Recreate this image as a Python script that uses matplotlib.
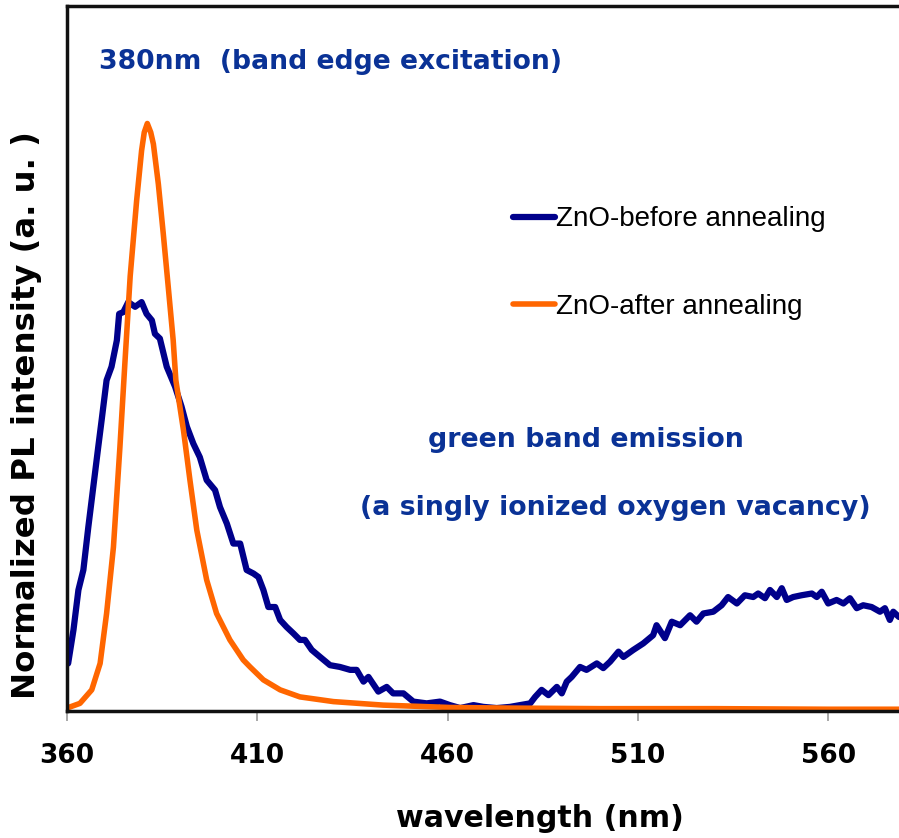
import matplotlib
matplotlib.use("Agg")
import matplotlib.pyplot as plt

# ZnO before annealing
wl_before = [360.3, 361.7, 363.0, 364.3, 365.6, 366.9, 368.2, 369.1, 370.4, 371.7,
             373.1, 373.7, 374.8, 376.1, 377.9, 379.6, 380.9, 382.3, 383.1, 384.4,
             386.2, 388.4, 390.1, 391.5, 393.2, 394.9, 396.7, 398.9, 400.2, 402.0,
             403.7, 405.5, 407.2, 409.0, 410.3, 411.6, 412.9, 414.7, 416.0, 417.7,
             419.5, 421.2, 422.5, 424.3, 426.5, 429.1, 431.7, 434.4, 436.1, 437.9,
             439.2, 441.8, 444.0, 445.7, 448.4, 451.0, 454.5, 458.0, 460.6, 463.3,
             466.8, 469.4, 472.9, 476.4, 479.0, 481.7, 483.0, 484.7, 486.5, 488.7,
             490.0, 491.3, 492.6, 494.8, 496.5, 499.2, 500.9, 502.7, 504.9, 506.2,
             508.8, 511.4, 514.0, 514.9, 517.1, 518.9, 521.1, 523.7, 525.4, 527.2,
             529.8, 532.0, 533.7, 536.0, 538.1, 540.3, 541.6, 543.4, 544.7, 546.5,
             547.8, 549.1, 550.8, 553.0, 555.7, 557.0, 558.3, 560.0, 562.2, 564.0,
             565.7, 567.5, 569.2, 571.4, 573.6, 574.9, 576.2, 577.1, 578.6]
int_before = [0.081, 0.138, 0.206, 0.240, 0.313, 0.381, 0.449, 0.495, 0.563, 0.586,
              0.631, 0.676, 0.679, 0.696, 0.688, 0.696, 0.676, 0.665, 0.642, 0.634,
              0.586, 0.552, 0.518, 0.484, 0.455, 0.432, 0.393, 0.376, 0.347, 0.319,
              0.285, 0.285, 0.240, 0.234, 0.228, 0.206, 0.177, 0.177, 0.155, 0.143,
              0.132, 0.121, 0.121, 0.104, 0.092, 0.078, 0.075, 0.070, 0.070, 0.050,
              0.058, 0.033, 0.041, 0.030, 0.030, 0.016, 0.013, 0.016, 0.010, 0.005,
              0.010, 0.007, 0.005, 0.007, 0.010, 0.013, 0.024, 0.036, 0.027, 0.041,
              0.030, 0.050, 0.058, 0.075, 0.070, 0.081, 0.073, 0.084, 0.101, 0.092,
              0.104, 0.115, 0.129, 0.146, 0.124, 0.152, 0.146, 0.163, 0.152, 0.166,
              0.169, 0.180, 0.194, 0.183, 0.197, 0.194, 0.200, 0.192, 0.206, 0.194,
              0.209, 0.189, 0.194, 0.197, 0.200, 0.194, 0.203, 0.183, 0.189, 0.183,
              0.192, 0.175, 0.180, 0.177, 0.169, 0.175, 0.155, 0.169, 0.160]

# ZnO after annealing
wl_after = [360.0, 363.4, 366.5, 368.7, 370.4, 372.2, 373.9, 375.2, 376.6, 378.3,
            379.6, 380.3, 381.1, 382.0, 382.7, 384.0, 385.3, 386.6, 387.9, 388.6,
            390.6, 392.3, 394.1, 396.7, 399.3, 402.8, 406.3, 408.1, 411.6, 416.0,
            421.2, 430.0, 443.1, 460.6, 475.5, 500.0, 530.0, 560.0, 578.6]
int_after = [0.005, 0.013, 0.036, 0.081, 0.166, 0.279, 0.449, 0.591, 0.740, 0.869,
             0.954, 0.985, 1.000, 0.985, 0.965, 0.897, 0.812, 0.722, 0.631, 0.563,
             0.478, 0.393, 0.308, 0.223, 0.166, 0.121, 0.087, 0.075, 0.053, 0.036,
             0.024, 0.016, 0.010, 0.006, 0.005, 0.004, 0.004, 0.003, 0.003]

xticks = [360, 410, 460, 510, 560]

blue_txt = '#0a3296'
bold_font = 'DejaVu Sans'
leg_font = 'Liberation Sans'

W, H = 899, 838
ax_w = W - 67 + 18  # axes run a little past the right edge, like the cropped original

fig = plt.figure(figsize=(W / 100, H / 100), dpi=100)
ax = fig.add_axes([67 / W, 1 - 711 / H, ax_w / W, 705 / H])

ax.plot(wl_before, int_before, color='#00008b', lw=4.5, label='ZnO-before annealing',
        solid_joinstyle='round', solid_capstyle='round')
ax.plot(wl_after, int_after, color='#ff6600', lw=4.0, label='ZnO-after annealing',
        solid_joinstyle='round', solid_capstyle='round')

ax.set_xlim(360, 360 + ax_w / 3.806)
ax.set_ylim(0, 1.2)
ax.set_yticks([])
ax.set_xticks(xticks)
ax.set_xticklabels([str(t) for t in xticks], fontsize=19, fontweight='bold', family=bold_font)
ax.tick_params(axis='x', direction='out', length=7, width=1.2, color='#999999', pad=16)

for s in ['left', 'bottom', 'top']:
    ax.spines[s].set_linewidth(2.5)
    ax.spines[s].set_color('#111111')
ax.spines['right'].set_visible(False)

ax.set_xlabel('wavelength (nm)', fontsize=21.6, fontweight='bold', family=bold_font)
ax.xaxis.set_label_coords((540 - 67) / ax_w, -(818 - 711) / 705)
ax.xaxis.label.set_va('center')

ax.set_ylabel('Normalized PL intensity (a. u. )', fontsize=23.3, fontweight='bold',
              family=bold_font)
ax.yaxis.set_label_coords(-(67 - 27) / ax_w, (711 - 415) / 705)
ax.yaxis.label.set_va('center')

fig.text(99 / W, 1 - 62 / H, '380nm  (band edge excitation)', color=blue_txt,
         fontsize=19.2, fontweight='bold', family=bold_font, va='center', ha='left')
fig.text(586 / W, 1 - 440 / H, 'green band emission', color=blue_txt,
         fontsize=19.3, fontweight='bold', family=bold_font, va='center', ha='center')
fig.text(615 / W, 1 - 508 / H, '(a singly ionized oxygen vacancy)', color=blue_txt,
         fontsize=19.3, fontweight='bold', family=bold_font, va='center', ha='center')

ax.legend(loc='center left', bbox_to_anchor=((513 - 67) / ax_w, (711 - 263) / 705),
          frameon=False, prop={'family': leg_font, 'size': 20}, handlelength=1.5,
          handletextpad=0.05, labelspacing=2.2, borderpad=0, borderaxespad=0)

fig.savefig('out.png', dpi=100)
